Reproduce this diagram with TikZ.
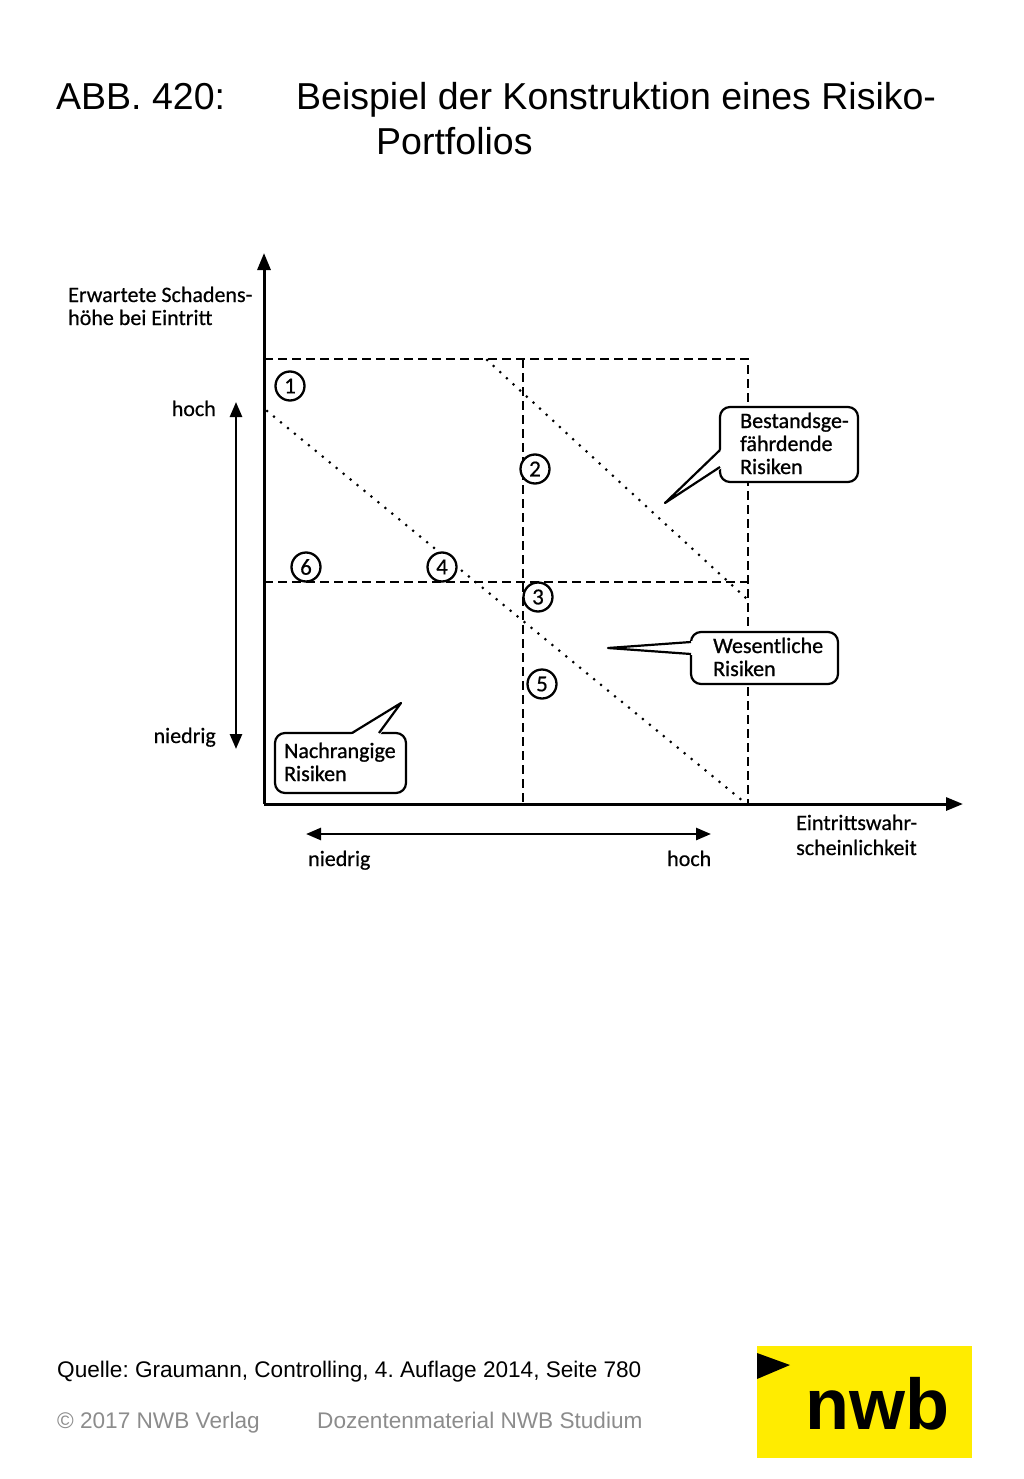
\documentclass[tikz,border=0pt]{standalone}
\usepackage{fontspec}
\setmainfont{Liberation Sans}
\newfontfamily\carl[FakeBold=0.5]{Carlito}
\newfontfamily\carlb[FakeBold=0.9]{Carlito}
\usetikzlibrary{arrows.meta}
\definecolor{nwbyellow}{RGB}{255,236,0}
\definecolor{footgray}{RGB}{140,140,140}
\frenchspacing
\begin{document}
\begin{tikzpicture}[x=1pt,y=-1pt,
  axisline/.style={line width=3pt,-{Triangle[length=17pt,width=13pt]}},
  dblarrow/.style={line width=2.6pt,{Triangle[length=15pt,width=12pt]}-{Triangle[length=15pt,width=12pt]}},
  dashline/.style={line width=2.6pt,dash pattern=on 9pt off 5pt},
  dotline/.style={line width=3pt,dash pattern=on 0pt off 9pt,line cap=round},
  numc/.style={circle,draw,line width=2.3pt,fill=white,minimum size=29pt,inner sep=0pt,font=\carl\fontsize{23}{23}\selectfont},
  lab/.style={anchor=base west,inner sep=0pt,font=\carl\fontsize{22}{22}\selectfont},
  labr/.style={anchor=base east,inner sep=0pt,font=\carl\fontsize{22}{22}\selectfont},
  clab/.style={anchor=base west,inner sep=0pt,font=\carlb\fontsize{22}{22}\selectfont},
  callbox/.style={draw,line width=2.2pt,rounded corners=10pt,fill=white,inner sep=0pt},
  ptr/.style={line width=2.2pt,line join=round},
  titletext/.style={anchor=base west,inner sep=0pt,font=\fontsize{37.5}{37.5}\selectfont},
  foot/.style={anchor=base west,inner sep=0pt,font=\fontsize{22.6}{22.6}\selectfont}]
\useasboundingbox (0,0) rectangle (1024,1479);

% title
\node[titletext] (abb) at (56,110) {ABB. 420:};
\node[titletext] (t1) at (296,110) {Beispiel der Konstruktion eines Risiko-};
\node[titletext] (t2) at (376,155) {Portfolios};

% grid coordinates
\coordinate (O) at (264,804);
\coordinate (TL) at (264,359);
\coordinate (TM) at (523,359);
\coordinate (TR) at (748,359);
\coordinate (BM) at (523,804);
\coordinate (BR) at (748,804);
\coordinate (ML) at (264,582);
\coordinate (MR) at (748,582);
\coordinate (ytip) at (264,253);
\coordinate (xtip) at (963,804);

% dashed grid
\draw[dashline] (TL) -- (TR) -- (BR);
\draw[dashline] (TM) -- (BM);
\draw[dashline] (ML) -- (MR);
\draw[dashline] (TL) -- (O);

% dotted diagonals
\coordinate (d1a) at (267,411);
\coordinate (d1b) at (744,802);
\coordinate (d2a) at (487,360);
\coordinate (d2b) at (747,599);
\draw[dotline] (d1a) -- (d1b);
\draw[dotline] (d2a) -- (d2b);

% axes
\draw[axisline] (O) -- (ytip);
\draw[axisline] (O) -- (xtip);

% side arrows
\coordinate (va) at (236,402);
\coordinate (vb) at (236,749);
\draw[dblarrow] (va) -- (vb);
\coordinate (ha) at (306,834);
\coordinate (hb) at (711,834);
\draw[dblarrow] (ha) -- (hb);

% axis labels
\node[lab] (yl1) at (68,302) {Erwartete Schadens-};
\node[lab] (yl2) at (68,325) {höhe bei Eintritt};
\node[labr] (yhoch) at (216,416) {hoch};
\node[labr] (yniedrig) at (216,743) {niedrig};
\node[lab] (xniedrig) at (308,866) {niedrig};
\node[lab] (xhoch) at (667,866) {hoch};
\node[lab] (xl1) at (796,830) {Eintrittswahr-};
\node[lab] (xl2) at (796,855) {scheinlichkeit};

% numbered circles
\node[numc] (n1) at (290,386) {1};
\node[numc] (n2) at (535,469) {2};
\node[numc] (n3) at (538,597) {3};
\node[numc] (n4) at (442,567) {4};
\node[numc] (n5) at (542,684) {5};
\node[numc] (n6) at (306,567) {6};

% callout: Bestandsgefaehrdende Risiken
\node[callbox,minimum width=138pt,minimum height=75pt] (cb1) at (789,444.5) {};
\coordinate (p1) at (665,503);
\fill[white] (722,449) -- (p1) -- (722,468) -- cycle;
\draw[ptr] (720,450) -- (p1) -- (720,467);
\node[clab] (cb1a) at (740,428) {Bestandsge-};
\node[clab] (cb1b) at (740,451) {fährdende};
\node[clab] (cb1c) at (740,474) {Risiken};

% callout: Wesentliche Risiken
\node[callbox,minimum width=147pt,minimum height=52pt] (cb2) at (764.5,658) {};
\coordinate (p2) at (608,648);
\fill[white] (693,641) -- (p2) -- (693,655) -- cycle;
\draw[ptr] (691,642) -- (p2) -- (691,654);
\node[clab] (cb2a) at (713,653) {Wesentliche};
\node[clab] (cb2b) at (713,676) {Risiken};

% callout: Nachrangige Risiken
\node[callbox,minimum width=131pt,minimum height=60pt] (cb3) at (340.5,763) {};
\coordinate (p3) at (401,703);
\fill[white] (351,735) -- (p3) -- (380,735) -- cycle;
\draw[ptr] (352,733) -- (p3) -- (379,733);
\node[clab] (cb3a) at (284,758) {Nachrangige};
\node[clab] (cb3b) at (284,781) {Risiken};

% footer
\node[foot] (src) at (57,1377) {Quelle: Graumann, Controlling, 4. Auflage 2014, Seite 780};
\node[foot,text=footgray] (copy) at (57,1428) {© 2017 NWB Verlag};
\node[foot,text=footgray] (doz) at (317,1428) {Dozentenmaterial NWB Studium};

% logo
\fill[nwbyellow] (757,1346) rectangle (972,1458);
\fill[black] (757,1353) -- (790,1365) -- (757,1379) -- cycle;
\node[anchor=base west,inner sep=0pt,font=\bfseries\fontsize{72}{72}\selectfont] (logo) at (805,1429) {nwb};
\end{tikzpicture}
\end{document}
